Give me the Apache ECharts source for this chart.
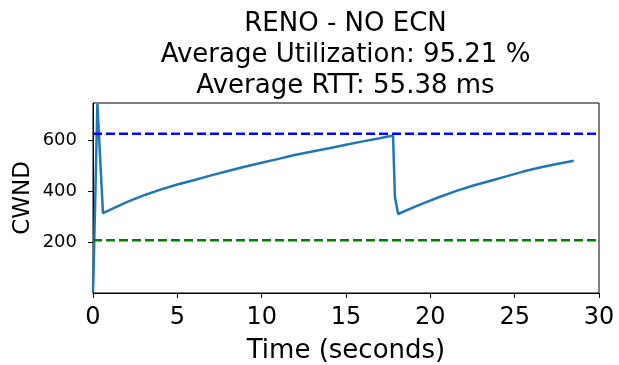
<!DOCTYPE html>
<html>
<head>
<meta charset="utf-8">
<script src="https://cdn.jsdelivr.net/npm/echarts@6/dist/echarts.min.js"></script>
<style>
html,body{margin:0;padding:0;background:#fff;}
#chart{width:619px;height:365px;}
</style>
</head>
<body>
<div id="chart"></div>
<script>
// Data
const titleLines = ["RENO - NO ECN", "Average Utilization: 95.21 %", "Average RTT: 55.38 ms"];
const timeSeconds = [0, 0.03, 0.26, 0.59, 1, 2, 3.07, 4, 5, 6.03, 7, 8, 8.99, 10, 11, 11.96, 13, 14, 14.93, 16, 17, 17.79, 17.9, 18.09, 19, 19.57, 20.5, 21.55, 22.5, 23.53, 24.5, 25.5, 26.5, 27.5, 28.5];
const cwnd = [5, 70, 745, 314, 327, 358, 386, 407, 427, 445, 463, 480, 497, 513, 528, 543, 557, 570, 583, 597, 609, 620, 378, 311, 337, 353, 377, 402, 422, 441, 459, 478, 494, 508, 521];
const upperRef = [627];   // blue dashed reference level
const lowerRef = [208];   // green dashed reference level
const xRange = [0, 30];
const xTickStep = 5;
const yRange = [0, 748];
const yTickStep = 200;
const yTickValues = [200, 400, 600];

const cwndPoints = timeSeconds.map((t, i) => [t, cwnd[i]]);
const hLine = v => [[xRange[0], v], [xRange[1], v]];

const chart = echarts.init(document.getElementById('chart'), null, {renderer: 'canvas'});
const font = 'DejaVu Sans';
chart.setOption({
  animation: false,
  backgroundColor: '#ffffff',
  textStyle: {fontFamily: font},
  title: {
    text: titleLines.join('\n'),
    left: 345.5,
    top: 9,
    textAlign: 'center',
    padding: 0,
    textStyle: {fontFamily: font, fontSize: 26, fontWeight: 'normal', color: '#000', lineHeight: 31}
  },
  grid: {left: 93, right: 20, top: 103, bottom: 72, containLabel: false, outerBoundsMode: 'none',
         show: true, borderColor: '#000', borderWidth: 1, backgroundColor: 'transparent'},
  xAxis: {
    type: 'value', min: xRange[0], max: xRange[1], interval: xTickStep,
    name: 'Time (seconds)', nameLocation: 'middle', nameGap: 45, nameMoveOverlap: false,
    nameTextStyle: {fontFamily: font, fontSize: 26, color: '#000'},
    axisLine: {show: true, lineStyle: {color: '#000', width: 1}},
    axisTick: {show: true, inside: false, length: 5, lineStyle: {color: '#000', width: 1}},
    axisLabel: {fontFamily: font, fontSize: 24, color: '#000', margin: 13},
    splitLine: {show: false}
  },
  yAxis: {
    type: 'value', min: yRange[0], max: yRange[1], interval: yTickStep,
    name: 'CWND', nameLocation: 'middle', nameGap: 58, nameMoveOverlap: false,
    nameTextStyle: {fontFamily: font, fontSize: 23, color: '#000'},
    axisLine: {show: true, lineStyle: {color: '#000', width: 1}},
    axisTick: {show: true, inside: false, length: 5, customValues: yTickValues,
               lineStyle: {color: '#000', width: 1}},
    axisLabel: {fontFamily: font, fontSize: 18, color: '#000', margin: 16,
                customValues: yTickValues},
    splitLine: {show: false}
  },
  series: [
    {type: 'line', data: cwndPoints, showSymbol: false, symbol: 'none',
     lineStyle: {color: '#1f77b4', width: 2.5}, z: 2},
    {type: 'line', data: hLine(upperRef[0]), showSymbol: false, symbol: 'none',
     lineStyle: {color: '#0000ff', width: 2.5, type: [9, 4]}, z: 3},
    {type: 'line', data: hLine(lowerRef[0]), showSymbol: false, symbol: 'none',
     lineStyle: {color: '#008000', width: 2.5, type: [9, 4]}, z: 3}
  ]
});
</script>
</body>
</html>
